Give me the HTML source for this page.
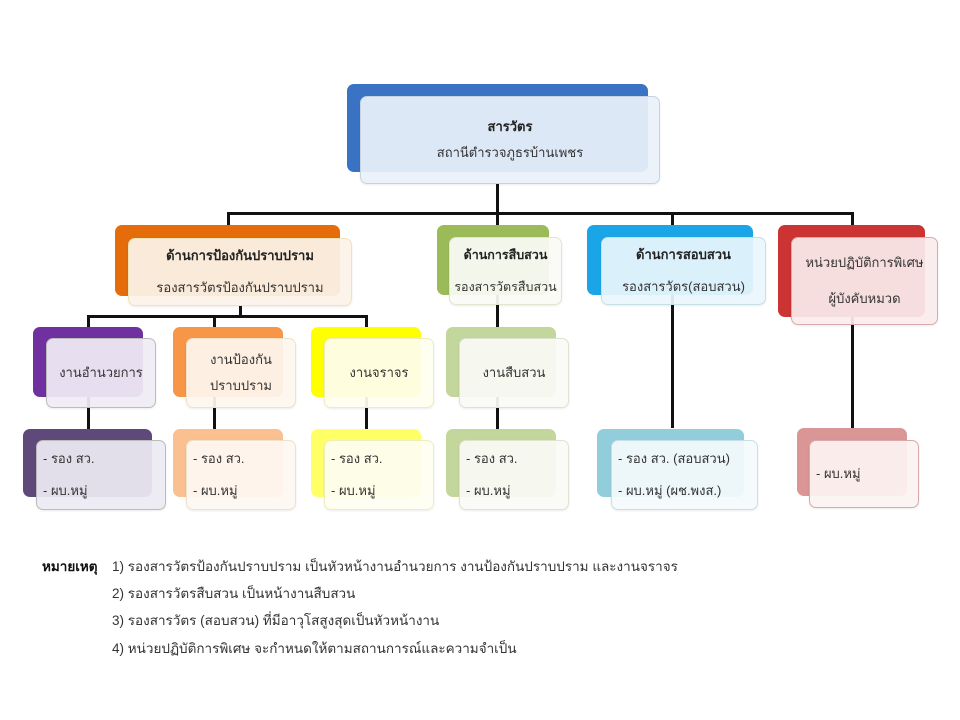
<!DOCTYPE html>
<html><head><meta charset="utf-8"><style>
body{margin:0;width:960px;height:720px;background:#fff;position:relative;overflow:hidden;font-family:"Liberation Sans","Tahoma",sans-serif;color:#333}
.b{position:absolute;border-radius:7px}
.f{position:absolute;border-radius:7px;background:rgba(255,255,255,0.88);border:1px solid #ccc;box-sizing:border-box;display:flex;flex-direction:column;justify-content:center;align-items:center;text-align:center;font-size:13px;line-height:26px;white-space:nowrap;box-shadow:0 1px 2px rgba(0,0,0,0.08)}
.f b{color:#222}
.l{position:absolute;background:#111}
.L{text-align:left;align-items:flex-start;padding-left:6px}
.n{position:absolute;font-size:13.5px;color:#333;white-space:nowrap}
</style></head><body>
<!-- lines -->
<div class="l" style="left:496px;top:184px;width:3px;height:30px"></div>
<div class="l" style="left:227px;top:212px;width:627px;height:3px"></div>
<div class="l" style="left:227px;top:212px;width:3px;height:14px"></div>
<div class="l" style="left:496px;top:212px;width:3px;height:114px"></div>
<div class="l" style="left:671px;top:212px;width:3px;height:216px"></div>
<div class="l" style="left:851px;top:212px;width:3px;height:216px"></div>
<div class="l" style="left:239px;top:305px;width:3px;height:12px"></div>
<div class="l" style="left:87px;top:315px;width:281px;height:3px"></div>
<div class="l" style="left:87px;top:315px;width:3px;height:114px"></div>
<div class="l" style="left:213px;top:315px;width:3px;height:114px"></div>
<div class="l" style="left:365px;top:315px;width:3px;height:114px"></div>
<div class="l" style="left:496px;top:326px;width:3px;height:103px"></div>

<!-- top -->
<div class="b" style="left:347px;top:84px;width:301px;height:88px;background:#3a73c4"></div>
<div class="f" style="left:360px;top:96px;width:300px;height:88px;background:rgba(234,241,250,0.93);border-color:#c7d3e3"><b>สารวัตร</b><span>สถานีตำรวจภูธรบ้านเพชร</span></div>

<!-- level 2 -->
<div class="b" style="left:115px;top:225px;width:225px;height:71px;background:#e46c0a"></div>
<div class="f" style="left:128px;top:238px;width:224px;height:68px;background:rgba(252,243,234,0.93);border-color:#efe3b8;line-height:32px"><b>ด้านการป้องกันปราบปราม</b><span>รองสารวัตรป้องกันปราบปราม</span></div>

<div class="b" style="left:437px;top:225px;width:112px;height:70px;background:#9bbb59"></div>
<div class="f" style="left:449px;top:237px;width:113px;height:68px;background:rgba(250,251,245,0.93);border-color:#e2e6cf;line-height:32px;font-size:12.5px"><b>ด้านการสืบสวน</b><span>รองสารวัตรสืบสวน</span></div>

<div class="b" style="left:587px;top:225px;width:166px;height:70px;background:#1aa6e6"></div>
<div class="f" style="left:601px;top:237px;width:165px;height:68px;background:rgba(234,246,253,0.93);border-color:#c7dfe6;line-height:32px"><b>ด้านการสอบสวน</b><span>รองสารวัตร(สอบสวน)</span></div>

<div class="b" style="left:778px;top:225px;width:147px;height:92px;background:#cc3333"></div>
<div class="f" style="left:791px;top:237px;width:147px;height:88px;background:rgba(250,236,236,0.93);border-color:#d9a9ad;line-height:36px"><span>หน่วยปฏิบัติการพิเศษ</span><span>ผู้บังคับหมวด</span></div>

<!-- level 3 -->
<div class="b" style="left:33px;top:327px;width:110px;height:70px;background:#7030a0"></div>
<div class="f" style="left:46px;top:338px;width:110px;height:70px;background:rgba(240,236,246,0.93);border-color:#bbb">งานอำนวยการ</div>
<div class="b" style="left:173px;top:327px;width:110px;height:70px;background:#f79646"></div>
<div class="f" style="left:186px;top:338px;width:110px;height:70px;background:rgba(253,246,238,0.93);border-color:#eee2c8;line-height:26px">งานป้องกัน<br>ปราบปราม</div>
<div class="b" style="left:311px;top:327px;width:110px;height:70px;background:#ffff00"></div>
<div class="f" style="left:324px;top:338px;width:110px;height:70px;background:rgba(254,254,240,0.93);border-color:#eeeebb">งานจราจร</div>
<div class="b" style="left:446px;top:327px;width:110px;height:70px;background:#c3d69b"></div>
<div class="f" style="left:459px;top:338px;width:110px;height:70px;background:rgba(250,251,246,0.93);border-color:#dde3d0">งานสืบสวน</div>

<!-- level 4 -->
<div class="b" style="left:23px;top:429px;width:129px;height:68px;background:#5f497a"></div>
<div class="f L" style="left:36px;top:440px;width:130px;height:70px;background:rgba(236,234,242,0.93);border-color:#bbb;line-height:32px"><span>- รอง สว.</span><span>- ผบ.หมู่</span></div>
<div class="b" style="left:173px;top:429px;width:110px;height:68px;background:#fac090"></div>
<div class="f L" style="left:186px;top:440px;width:110px;height:70px;background:rgba(254,248,242,0.93);border-color:#eee2c8;line-height:32px"><span>- รอง สว.</span><span>- ผบ.หมู่</span></div>
<div class="b" style="left:311px;top:429px;width:110px;height:68px;background:#ffff66"></div>
<div class="f L" style="left:324px;top:440px;width:110px;height:70px;background:rgba(254,254,242,0.93);border-color:#eeeebb;line-height:32px"><span>- รอง สว.</span><span>- ผบ.หมู่</span></div>
<div class="b" style="left:446px;top:429px;width:110px;height:68px;background:#c3d69b"></div>
<div class="f L" style="left:459px;top:440px;width:110px;height:70px;background:rgba(250,251,246,0.93);border-color:#dde3d0;line-height:32px"><span>- รอง สว.</span><span>- ผบ.หมู่</span></div>
<div class="b" style="left:597px;top:429px;width:147px;height:68px;background:#92cddc"></div>
<div class="f L" style="left:611px;top:440px;width:147px;height:70px;background:rgba(244,250,252,0.93);border-color:#c7dfe6;line-height:32px"><span>- รอง สว. (สอบสวน)</span><span>- ผบ.หมู่ (ผช.พงส.)</span></div>
<div class="b" style="left:797px;top:428px;width:110px;height:68px;background:#d99694"></div>
<div class="f L" style="left:809px;top:440px;width:110px;height:68px;background:rgba(252,242,242,0.93);border-color:#d9a9ad"><span>- ผบ.หมู่</span></div>

<!-- notes -->
<div class="n" style="left:42px;top:555px"><b style="color:#111">หมายเหตุ</b></div>
<div class="n" style="left:112px;top:555px">1) รองสารวัตรป้องกันปราบปราม เป็นหัวหน้างานอำนวยการ งานป้องกันปราบปราม และงานจราจร</div>
<div class="n" style="left:112px;top:582px">2) รองสารวัตรสืบสวน เป็นหน้างานสืบสวน</div>
<div class="n" style="left:112px;top:609px">3) รองสารวัตร (สอบสวน) ที่มีอาวุโสสูงสุดเป็นหัวหน้างาน</div>
<div class="n" style="left:112px;top:637px">4) หน่วยปฏิบัติการพิเศษ จะกำหนดให้ตามสถานการณ์และความจำเป็น</div>
</body></html>
